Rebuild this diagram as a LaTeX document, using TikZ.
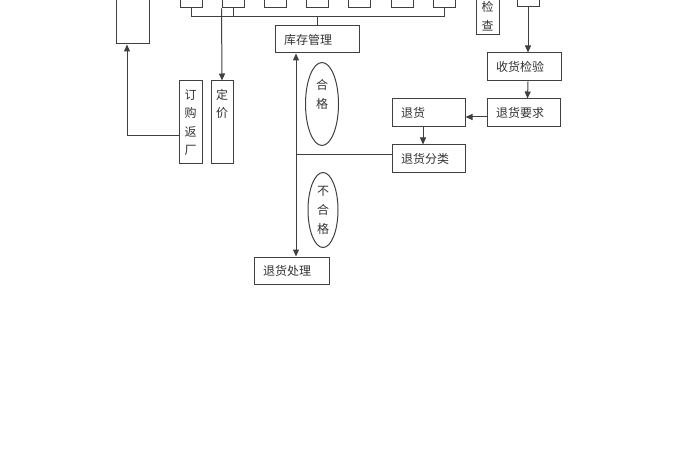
\documentclass[tikz,border=0pt]{standalone}
\usepackage{fontspec}
\newfontfamily\cjk{Noto Sans CJK SC}
\usetikzlibrary{arrows.meta,shapes.geometric}
\begin{document}
\begin{tikzpicture}[x=1pt,y=-1pt,
  line/.style={draw=black!75, line width=1pt},
  arr/.style={line, -{Triangle[length=7pt,width=6pt]}},
  hbox/.style={draw=black!75, line width=1pt, inner xsep=9pt, inner ysep=0pt, align=left, font=\cjk\fontsize{12}{14}\selectfont, text=black!80},
  vbox/.style={draw=black!75, line width=1pt, inner sep=0pt, align=center, font=\cjk\fontsize{12}{18.5}\selectfont, text=black!80},
  oval/.style={ellipse, draw=black!75, line width=1pt, inner sep=0pt, align=center, font=\cjk\fontsize{12}{19}\selectfont, text=black!80}]
\useasboundingbox (0,0) rectangle (700,470);
\fill[white] (0,0) rectangle (700,470);
\clip (0,0) rectangle (700,470);

% top row of boxes (cut by the top edge)
\foreach \n/\x in {1/191,2/233,3/275,4/317,5/359,6/402,7/444}
  \node[vbox, minimum width=22pt, minimum height=28pt] (B\n) at (\x,-6) {};
\node[vbox, minimum width=33pt, minimum height=64pt] (L) at (132.5,12) {};
\node[vbox, minimum width=23pt, minimum height=56pt] (JC) at (487.5,7) {\phantom{检}\\检\\查};
\node[vbox, minimum width=22pt, minimum height=27pt] (R) at (528,-6.5) {};

% vertical boxes
\node[vbox, minimum width=23pt, minimum height=83pt] (D1) at (190.5,122.5) {订\\购\\返\\厂};
\node[vbox, minimum width=22pt, minimum height=83pt] (D2) at (222,122.5) {定\\价\\\phantom{定}\\\phantom{定}};

% horizontal boxes
\node[hbox, text width=66pt, minimum height=27pt] (KC) at (317,39.5) {库存管理};
\node[hbox, text width=56pt, minimum height=28pt] (SJ) at (524,67) {收货检验};
\node[hbox, text width=55pt, minimum height=28pt] (TY) at (523.5,113) {退货要求};
\node[hbox, text width=55pt, minimum height=28pt] (TH) at (428.5,113) {退货};
\node[hbox, text width=55pt, minimum height=28pt] (FL) at (428.5,159) {退货分类};
\node[hbox, text width=57pt, minimum height=27pt] (CL) at (291.5,270.5) {退货处理};

% ellipses
\node[oval, minimum width=33pt, minimum height=83pt] (HG) at (322,104) {合\\格\\\phantom{格}};
\node[oval, minimum width=30pt, minimum height=75pt] (BHG) at (323,210) {不\\合\\格};

% connectors
\coordinate (busL) at (191,17);
\coordinate (busR) at (444,17);
\draw[line] (B1.south) -- (busL) -- (busR) -- (B7.south);
\draw[line] (B2.south) -- (B2.south |- busL);
\draw[line] (KC.north) -- (KC.north |- busL);
\draw[arr] (B2.south west) -- (D2.north);
\draw[arr] ([yshift=-13.5pt]D1.west) -| ([xshift=-5.5pt]L.south);
\draw[arr] (R.south) -- (R.south |- SJ.north);
\draw[arr] ([xshift=4pt]SJ.south) -- ([xshift=4pt]TY.north);
\draw[arr] ([yshift=-4pt]TY.west) -- ([yshift=-4pt]TH.east);
\draw[arr] ([xshift=-5.5pt]TH.south) -- ([xshift=-5.5pt]FL.north);
\coordinate (J) at (296,155);
\draw[line] ([yshift=4pt]FL.west) -- (J);
\draw[arr] (J) -- (KC.south -| J);
\draw[arr] (J) -- (CL.north -| J);
\end{tikzpicture}
\end{document}
